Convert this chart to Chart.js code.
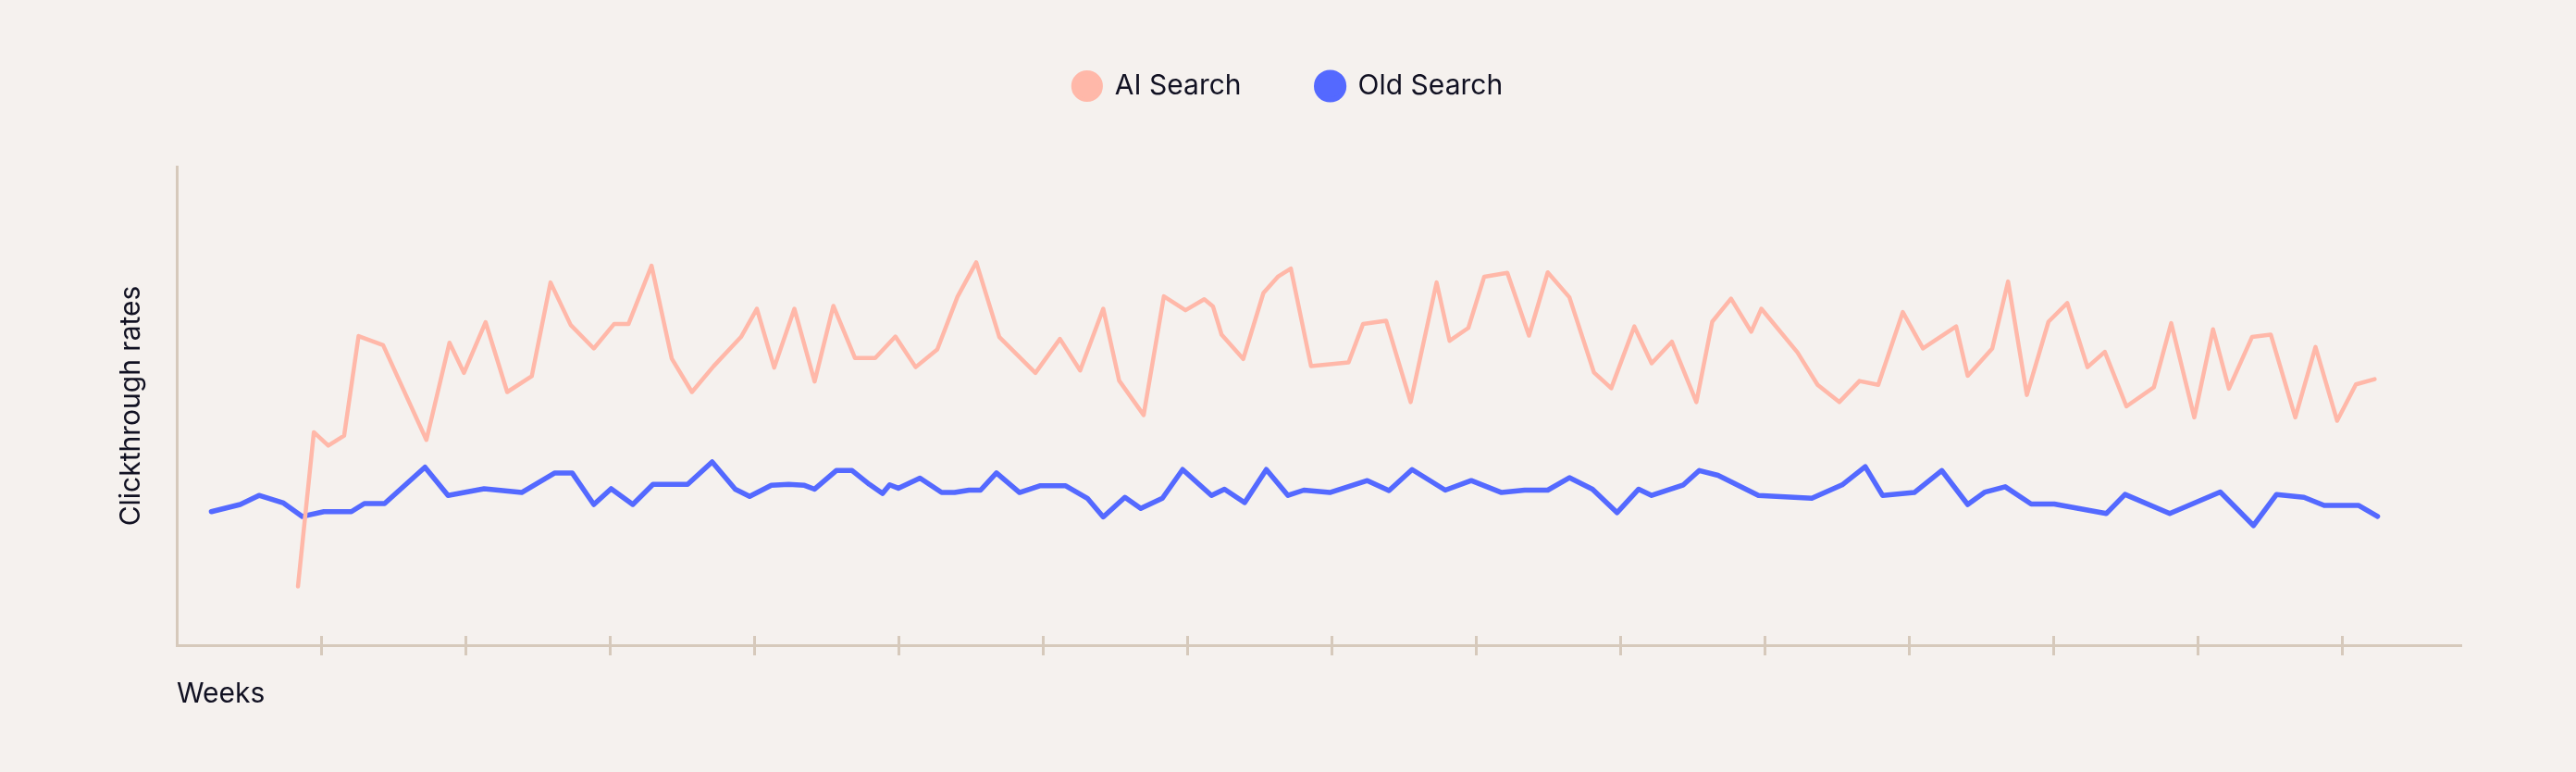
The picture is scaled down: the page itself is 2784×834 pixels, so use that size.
<!DOCTYPE html>
<html>
<head>
<meta charset="utf-8">
<script src="https://cdn.jsdelivr.net/npm/chart.js@4"></script>
<style>
  html, body { margin: 0; padding: 0; background: #F5F1EE; }
  #wrap { width: 2784px; height: 834px; position: relative; }
</style>
</head>
<body>
<div id="wrap"><canvas id="c"></canvas></div>
<script>
// Week positions and clickthrough values
const aiWeeks = [8.4, 9.5, 10.5, 11.6, 12.6, 14.3, 17.3, 18.9, 19.9, 21.4, 22.9, 24.6, 25.9, 27.3, 28.9, 30.3, 31.3, 32.9, 34.3, 35.7,
  37.2, 39.1, 40.2, 41.4, 42.8, 44.2, 45.5, 47.0, 48.4, 49.8, 51.2, 52.7, 54.1, 55.4, 57.0, 59.5, 61.2, 62.6, 64.2, 65.3,
  67.0, 68.4, 69.9, 71.2, 71.8, 72.4, 73.9, 75.3, 76.3, 77.2, 78.6, 81.2, 82.2, 83.8, 85.5, 87.3, 88.2, 89.5, 90.6, 92.2,
  93.7, 95.0, 96.5, 98.2, 99.4, 101.0, 102.2, 103.6, 105.3, 106.4, 107.7, 109.1, 109.8, 110.9, 112.3, 113.7, 115.2, 116.6, 117.9, 119.6,
  121.0, 123.3, 124.1, 125.8, 126.9, 128.2, 129.7, 131.0, 132.4, 133.6, 135.1, 137.0, 138.2, 139.8, 141.1, 142.2, 143.8, 145.1, 146.8, 148.2,
  149.7, 151.0, 152.3];
const aiRates = [12.3, 44.5, 41.7, 43.8, 64.6, 62.7, 42.9, 63.2, 56.9, 67.5, 52.9, 56.2, 75.8, 66.9, 62.0, 67.1, 67.1, 79.3, 59.9, 52.9,
  58.3, 64.4, 70.3, 58.0, 70.3, 55.1, 70.9, 60.0, 60.0, 64.5, 58.1, 61.8, 72.8, 80.0, 64.4, 56.9, 64.0, 57.4, 70.3, 55.3,
  48.1, 72.9, 70.0, 72.3, 70.8, 64.9, 59.8, 73.6, 77.0, 78.7, 58.3, 59.1, 67.1, 67.8, 50.8, 75.8, 63.6, 66.3, 77.0, 77.8,
  64.7, 77.9, 72.7, 57.0, 53.7, 66.6, 58.9, 63.4, 50.8, 67.6, 72.4, 65.5, 70.3, 66.3, 61.2, 54.4, 50.8, 55.2, 54.4, 69.6,
  62.0, 66.6, 56.3, 62.0, 76.0, 52.3, 67.6, 71.5, 58.1, 61.3, 49.9, 53.9, 67.3, 47.6, 66.0, 53.6, 64.4, 64.9, 47.6, 62.3,
  46.9, 54.5, 55.6];

const oldWeeks = [2.4, 4.4, 5.7, 7.4, 8.7, 10.2, 12.1, 13.0, 14.4, 17.2, 18.8, 21.3, 23.9, 26.2, 27.4, 28.9, 30.1, 31.6, 33.0, 35.4,
  37.1, 38.7, 39.7, 41.2, 42.4, 43.5, 44.2, 45.7, 46.8, 48.0, 48.9, 49.4, 50.0, 51.5, 53.0, 53.9, 54.9, 55.7, 56.8, 58.4,
  59.8, 61.6, 63.1, 64.2, 65.7, 66.8, 68.3, 69.7, 71.7, 72.6, 74.0, 75.5, 77.0, 78.1, 79.9, 82.5, 84.0, 85.6, 87.9, 89.7,
  91.8, 93.4, 95.0, 96.5, 98.1, 99.8, 101.3, 102.2, 104.4, 105.5, 106.8, 109.6, 113.3, 115.4, 117.0, 118.2, 120.4, 122.3, 124.1, 125.3,
  126.7, 128.5, 130.1, 133.7, 135.0, 138.1, 141.6, 143.9, 145.5, 147.4, 148.8, 151.2, 152.5];
const oldRates = [27.9, 29.4, 31.3, 29.7, 26.9, 27.9, 27.9, 29.6, 29.6, 37.2, 31.3, 32.7, 31.9, 36.0, 36.0, 29.4, 32.7, 29.4, 33.6, 33.6,
  38.3, 32.6, 31.1, 33.4, 33.6, 33.4, 32.6, 36.5, 36.5, 33.6, 31.7, 33.5, 32.8, 34.9, 31.9, 31.9, 32.4, 32.4, 36.0, 31.9,
  33.3, 33.3, 30.7, 26.8, 30.9, 28.6, 30.7, 36.7, 31.3, 32.6, 29.8, 36.7, 31.3, 32.4, 31.9, 34.4, 32.3, 36.7, 32.4, 34.4,
  31.9, 32.4, 32.4, 35.0, 32.6, 27.7, 32.6, 31.3, 33.5, 36.5, 35.5, 31.3, 30.7, 33.5, 37.3, 31.3, 31.9, 36.5, 29.4, 32.0,
  33.1, 29.5, 29.5, 27.5, 31.5, 27.5, 32.0, 25.0, 31.5, 30.9, 29.2, 29.2, 26.9];

const seriesNames = ['AI Search', 'Old Search'];
const weekTicks = [10, 20, 30, 40, 50, 60, 70, 80, 90, 100, 110, 120, 130, 140, 150];

const AXIS = '#D6C9BB';
const TEXT = '#111122';
Chart.defaults.font.family = 'Inter';
Chart.defaults.font.size = 30;
Chart.defaults.color = TEXT;

const toPoints = (xs, ys) => xs.map((x, i) => ({ x: x, y: ys[i] }));

// Tick marks that cross the x axis line
const crossTicks = {
  id: 'crossTicks',
  afterDatasetsDraw(chart) {
    const sc = chart.scales.x;
    const ctx = chart.ctx;
    ctx.save();
    ctx.strokeStyle = AXIS;
    ctx.lineWidth = 3;
    sc.ticks.forEach(t => {
      const px = Math.round(sc.getPixelForValue(t.value)) + 0.5;
      ctx.beginPath();
      ctx.moveTo(px, sc.top - 10);
      ctx.lineTo(px, sc.top + 11);
      ctx.stroke();
    });
    ctx.restore();
  }
};

// Empty layout box between the legend and the plot area
const legendGap = {
  id: 'legendGap',
  beforeInit(chart) {
    const box = {
      options: {},
      position: 'top', weight: 999, fullSize: true,
      left: 0, top: 0, right: 0, bottom: 0, width: 0, height: 0,
      isHorizontal() { return true; },
      update(maxWidth) { this.width = maxWidth; this.height = 62; return { width: this.width, height: this.height }; },
      draw() {}
    };
    Chart.layouts.addBox(chart, box);
  }
};

new Chart(document.getElementById('c'), {
  type: 'line',
  data: {
    datasets: [
      {
        label: seriesNames[0],
        data: toPoints(aiWeeks, aiRates),
        borderColor: '#FFB8A9',
        backgroundColor: '#FFB8A9',
        borderWidth: 4.5,
        pointRadius: 0,
        tension: 0,
        borderCapStyle: 'round',
        borderJoinStyle: 'round'
      },
      {
        label: seriesNames[1],
        data: toPoints(oldWeeks, oldRates),
        borderColor: '#5469FF',
        backgroundColor: '#5469FF',
        borderWidth: 5.5,
        pointRadius: 0,
        tension: 0,
        borderCapStyle: 'round',
        borderJoinStyle: 'round'
      }
    ]
  },
  options: {
    responsive: true,
    maintainAspectRatio: false,
    devicePixelRatio: 1,
    animation: false,
    layout: { padding: { top: -3, left: 124, right: 124, bottom: 62 } },
    plugins: {
      legend: {
        position: 'top',
        align: 'center',
        labels: {
          usePointStyle: true,
          pointStyle: 'circle',
          boxWidth: 30,
          boxHeight: 21,
          padding: 81,
          color: TEXT,
          font: { size: 30 }
        }
      },
      tooltip: { enabled: false }
    },
    scales: {
      x: {
        type: 'linear',
        min: 0,
        max: 158.3,
        afterBuildTicks(scale) { scale.ticks = weekTicks.map(v => ({ value: v })); },
        ticks: { display: false },
        grid: { display: false, drawTicks: false },
        border: { display: true, color: AXIS, width: 3 },
        title: { display: true, text: 'Weeks', align: 'start', color: TEXT, font: { size: 30 }, padding: { top: 35, bottom: 4 } }
      },
      y: {
        min: 0,
        max: 100,
        ticks: { display: false },
        grid: { display: false, drawTicks: false },
        border: { display: true, color: AXIS, width: 3 },
        title: { display: true, text: 'Clickthrough rates', color: TEXT, font: { size: 30 }, padding: { top: 0, bottom: 31 } }
      }
    }
  },
  plugins: [crossTicks, legendGap]
});
</script>
</body>
</html>
